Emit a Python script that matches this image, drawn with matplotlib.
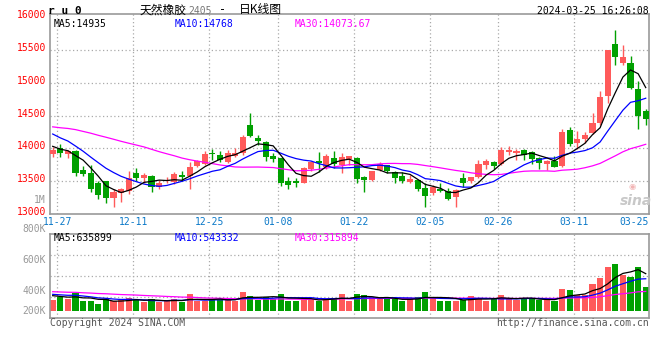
import numpy as np
import matplotlib
matplotlib.use('Agg')
import matplotlib.pyplot as plt
from matplotlib.transforms import offset_copy

####################    DATA    ####################
# daily candles 2023-11-27 .. 2024-03-25 (79 trading days)
opens = [13913, 14000, 13913, 13964, 13669, 13628, 13475, 13496, 13241, 13313,
         13353, 13628, 13547, 13577, 13404, 13496, 13486, 13587, 13577, 13730,
         13760, 13933, 13903, 13791, 13883, 13923, 14361, 14157, 14096, 13883,
         13852, 13496, 13506, 13475, 13679, 13811, 13720, 13852, 13750, 13842,
         13852, 13567, 13516, 13669, 13740, 13638, 13577, 13486, 13516, 13394,
         13323, 13384, 13353, 13251, 13547, 13496, 13567, 13750, 13791, 13760,
         13944, 13933, 13974, 13944, 13852, 13760, 13801, 13730, 14280, 14086,
         14137, 14239, 14392, 14799, 15593, 15308, 15308, 14901, 14575]
highs = [14025, 14066, 13974, 13974, 13730, 13740, 13496, 13496, 13374, 13394,
         13648, 13699, 13618, 13587, 13516, 13557, 13638, 13659, 13791, 13821,
         13954, 13995, 13954, 13974, 14005, 14208, 14544, 14208, 14117, 13933,
         13852, 13557, 13547, 13720, 13811, 13949, 13913, 13964, 13933, 13883,
         13862, 13577, 13659, 13791, 13750, 13659, 13638, 13587, 13516, 13465,
         13435, 13475, 13394, 13384, 13618, 13567, 13822, 13842, 13811, 14025,
         14035, 13984, 13995, 13964, 13872, 13822, 13883, 14300, 14331, 14259,
         14249, 14534, 14880, 15501, 15807, 15578, 15410, 15023, 14595]
lows = [13862, 13862, 13847, 13577, 13577, 13338, 13231, 13160, 13109, 13185,
        13302, 13506, 13475, 13338, 13374, 13465, 13455, 13506, 13374, 13720,
        13750, 13821, 13791, 13771, 13862, 13893, 14178, 14056, 13811, 13791,
        13424, 13374, 13414, 13465, 13648, 13643, 13689, 13699, 13628, 13740,
        13465, 13333, 13506, 13648, 13628, 13465, 13465, 13475, 13353, 13109,
        13292, 13333, 13211, 13109, 13404, 13465, 13547, 13689, 13679, 13740,
        13903, 13822, 13822, 13760, 13689, 13669, 13709, 13709, 14035, 13995,
        14086, 14219, 14361, 14687, 15267, 15277, 14901, 14300, 14361]
closes = [13974, 13933, 13964, 13618, 13608, 13384, 13292, 13241, 13333, 13374,
          13547, 13547, 13598, 13404, 13475, 13516, 13608, 13557, 13710, 13801,
          13913, 13913, 13821, 13933, 13933, 14178, 14188, 14107, 13872, 13842,
          13465, 13445, 13465, 13699, 13791, 13781, 13883, 13760, 13862, 13883,
          13536, 13516, 13648, 13760, 13659, 13547, 13506, 13536, 13384, 13272,
          13404, 13353, 13231, 13363, 13465, 13557, 13760, 13801, 13730, 13974,
          13974, 13954, 13893, 13842, 13781, 13801, 13720, 14249, 14066, 14147,
          14198, 14381, 14778, 15501, 15389, 15389, 14921, 14493, 14442]
volumes = [188100, 233700, 210900, 313500, 176700, 176700, 119700, 199500, 165300, 188100,
           222300, 188100, 153900, 199500, 153900, 176700, 210900, 153900, 290700, 165300,
           165300, 210900, 188100, 222300, 176700, 324900, 256500, 188100, 245100, 210900,
           290700, 176700, 176700, 222300, 188100, 176700, 210900, 222300, 290700, 176700,
           290700, 267900, 199500, 199500, 199500, 222300, 176700, 199500, 233700, 324900,
           222300, 176700, 176700, 176700, 188100, 256500, 222300, 176700, 199500, 267900,
           222300, 188100, 222300, 199500, 188100, 188100, 176700, 381900, 359100, 267900,
           267900, 461700, 564300, 758100, 809400, 621300, 587100, 758100, 416100]

# days before 11-27 (not drawn) - estimated from where the MA lines start
prior_closes = [14350, 14280, 14150, 14430, 14200, 14260, 14120, 14250, 14330, 14420,
                14380, 14450, 14500, 14560, 14480, 14530, 14600, 14470, 14420, 14460,
                14520, 14450, 14380, 14400, 14280, 14150, 14080, 13990, 13956]
prior_volumes = [380000, 340000, 360000, 410000, 330000, 350000, 320000, 370000, 390000, 340000,
                 330000, 360000, 350000, 310000, 370000, 340000, 360000, 330000, 350000, 360000,
                 320000, 290000, 310000, 300000, 320000, 300000, 270000, 290000, 262000]

date_labels = ['11-27', '12-11', '12-25', '01-08', '01-22', '02-05', '02-26', '03-11', '03-25']
date_index = [0, 10, 20, 29, 39, 49, 58, 68, 78]
price_ticks = [13000, 13500, 14000, 14500, 15000, 15500, 16000]

####################    HELPERS    ####################
W, H = 660, 360

def fx(x):
    return x / W

def fy(y):
    return 1 - y / H

def moving_avg(prior, vals, n):
    allv = np.array(prior + vals, dtype=float)
    off = len(prior)
    return np.array([allv[off + i - n + 1: off + i + 1].mean() for i in range(len(vals))])

UP = '#ff5a5a'
DOWN = '#00a000'
GRID = '#aaaaaa'
FRAME = '#999999'
MONO = 'DejaVu Sans Mono'

idx = np.arange(len(closes))
o = np.array(opens); c = np.array(closes)
hi = np.array(highs); lo = np.array(lows)
up = c >= o
cols = np.where(up, UP, DOWN)

####################    FIGURE    ####################
fig = plt.figure(figsize=(6.6, 3.6), dpi=100)
ax = fig.add_axes([fx(50), fy(213.8), fx(649) - fx(50), fy(14) - fy(213.8)])
axv = fig.add_axes([fx(50), fy(318), fx(649) - fx(50), fy(234) - fy(318)])

xl = (-0.355, 78.43)
for a in (ax, axv):
    a.set_xlim(*xl)
    a.set_xticks([])
    a.set_yticks([])
    for s in a.spines.values():
        s.set_color(FRAME)
        s.set_linewidth(1.2)
    for d in date_index[:-1]:
        a.axvline(d + 0.6, color=GRID, lw=0.9, ls=(0, (1, 2)), zorder=0)

# price panel
ax.set_ylim(13000, 16050)
for p in price_ticks[1:-1]:
    ax.axhline(p, color=GRID, lw=0.9, ls=(0, (1, 2)), zorder=0)

ax.vlines(idx, lo, hi, colors=cols, lw=1, zorder=2)
body = np.maximum(np.abs(c - o), 12)
ax.bar(idx, body, bottom=np.minimum(o, c), width=0.8, color=cols, lw=0, zorder=3)

ax.plot(idx, moving_avg(prior_closes, closes, 30), color='#ff00ff', lw=0.9, zorder=4)
ax.plot(idx, moving_avg(prior_closes, closes, 10), color='#0000ff', lw=0.9, zorder=4)
ax.plot(idx, moving_avg(prior_closes, closes, 5), color='black', lw=0.9, zorder=4)

lab_tr = offset_copy(ax.get_yaxis_transform(), fig=fig, x=-4, y=2, units='dots')
for p in price_ticks:
    ax.text(0, p, str(p), transform=lab_tr, ha='right', va='center',
            color='red', fontsize=7, family=MONO, clip_on=False)

for d, lab in zip(date_index, date_labels):
    if lab == date_labels[-1]:
        fig.text(fx(649), fy(221.7), lab, ha='right', va='center', color='#0a78c8', fontsize=7, family=MONO)
    else:
        ax.text(d + 0.6, -0.04, lab, transform=ax.get_xaxis_transform(), ha='center', va='center',
                color='#0a78c8', fontsize=7, family=MONO, clip_on=False)

fig.text(fx(54), fy(23.7), 'MA5:14935', color='black', fontsize=7, family=MONO, va='center')
fig.text(fx(175), fy(23.7), 'MA10:14768', color='#0000ff', fontsize=7, family=MONO, va='center')
fig.text(fx(295), fy(23.7), 'MA30:14073.67', color='#ff00ff', fontsize=7, family=MONO, va='center')

# sina watermark
fig.text(fx(632), fy(186), '\u25c9', color='#f2b4b4', fontsize=6, ha='center', va='center')
fig.text(fx(636), fy(201), 'sina', color='#c8c8c8', fontsize=10, style='italic', weight='bold',
         ha='center', va='center', family='DejaVu Sans')

# volume panel
axv.set_ylim(-119700, 1316700)
for f in (0.25, 0.5, 0.75):
    axv.axhline(-119700 + f * (1316700 + 119700), color=GRID, lw=0.9, ls=(0, (1, 2)), zorder=0)
axv.bar(idx, volumes, width=0.8, color=cols, lw=0, zorder=2)
axv.plot(idx, moving_avg(prior_volumes, volumes, 30), color='#ff00ff', lw=0.9, zorder=3)
axv.plot(idx, moving_avg(prior_volumes, volumes, 10), color='#0000ff', lw=0.9, zorder=3)
axv.plot(idx, moving_avg(prior_volumes, volumes, 5), color='black', lw=0.9, zorder=3)

fig.text(fx(54), fy(238), 'MA5:635899', color='black', fontsize=7, family=MONO, va='center')
fig.text(fx(175), fy(238), 'MA10:543332', color='#0000ff', fontsize=7, family=MONO, va='center')
fig.text(fx(295), fy(238), 'MA30:315894', color='#ff00ff', fontsize=7, family=MONO, va='center')

# volume scale labels sit where sina puts them
for txt, yy in [('1M', 200), ('800K', 229.3), ('600K', 260), ('400K', 290.7), ('200K', 311)]:
    fig.text(fx(46), fy(yy), txt, color='#999999', fontsize=7, family=MONO, ha='right', va='center')

####################    HEADER / FOOTER    ####################
fig.text(fx(48), fy(11.5), 'r u 0', color='black', fontsize=8, weight='bold', family=MONO, va='center')
cjk = ['Noto Sans CJK SC', 'DejaVu Sans']
fig.text(fx(140), fy(10), '天然橡胶', fontsize=8.5, family=cjk, va='center')
fig.text(fx(188), fy(10.5), '2405', fontsize=7, color='#777777', family=MONO, va='center')
fig.text(fx(219), fy(10), '-', fontsize=8.5, family=MONO, va='center')
fig.text(fx(239), fy(10), '日K线图', fontsize=8.5, family=cjk, va='center')
fig.text(fx(649), fy(11.5), '2024-03-25 16:26:08', fontsize=7, family=MONO, ha='right', va='center')

fig.text(fx(50), fy(323), 'Copyright 2024 SINA.COM', color='#555555', fontsize=7, family=MONO, va='center')
fig.text(fx(649), fy(323), 'http://finance.sina.com.cn', color='#555555', fontsize=7, family=MONO,
         ha='right', va='center')

fig.savefig('out.png', dpi=100)
